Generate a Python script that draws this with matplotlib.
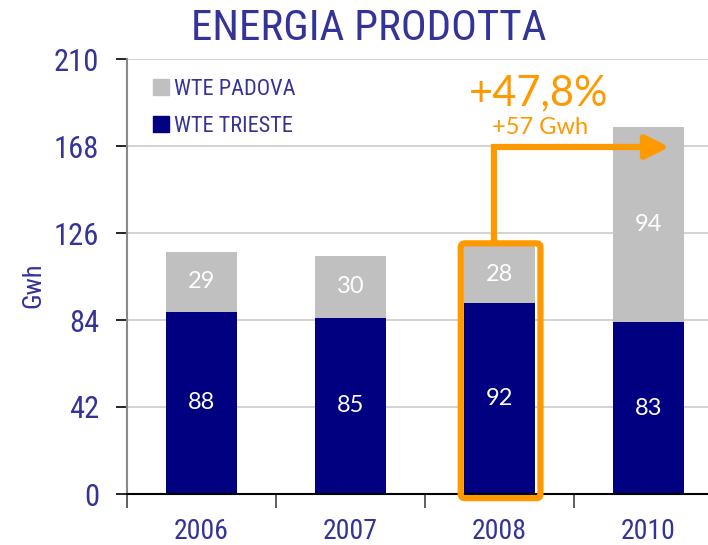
import matplotlib
matplotlib.use('Agg')
import matplotlib.pyplot as plt
from matplotlib.patches import FancyBboxPatch, Patch
from matplotlib import font_manager
import numpy as np

nomi = {f.name for f in font_manager.fontManager.ttflist}
famiglia = ['Roboto']
for n in ['Roboto Condensed', 'DejaVu Sans Condensed', 'Liberation Sans Narrow']:
    if n in nomi:
        famiglia = [n]
        break
plt.rcParams['font.family'] = famiglia + ['DejaVu Sans']
largo = ['Lato', 'DejaVu Sans']

# dati
anni = ['2006', '2007', '2008', '2010']
trieste = [88, 85, 92, 83]
padova = [29, 30, 28, 94]
yticks = [0, 42, 84, 126, 168, 210]

blu = '#000080'
grigio = '#C0C0C0'
testo = '#333399'
arancio = '#FF9900'

fig = plt.figure(figsize=(7.08, 5.45), dpi=100)
ax = fig.add_axes([127 / 708, 51 / 545, 596 / 708, 435 / 545])

x = np.arange(len(anni))
ax.bar(x, trieste, width=0.48, color=blu, zorder=2)
ax.bar(x, padova, width=0.48, bottom=trieste, color=grigio, zorder=2)

for xi, t, p in zip(x, trieste, padova):
    ax.text(xi, t / 2, str(t), color='white', fontsize=17, family=largo,
            ha='center', va='center', zorder=3)
    ax.text(xi, t + p / 2, str(p), color='white', fontsize=17, family=largo,
            ha='center', va='center', zorder=3)

ax.set_xlim(-0.5, 3.5)
ax.set_ylim(0, 210)
ax.set_yticks(yticks)
ax.set_yticklabels([str(v) for v in yticks], color=testo, fontsize=22)
ax.yaxis.grid(True, color='#cccccc', linewidth=1.2, zorder=0)
ax.tick_params(axis='y', length=8, width=1.2, color='black', pad=12)

# tick delle categorie ai bordi
ax.set_xticks(np.arange(-0.5, 3.5, 1.0))
ax.set_xticklabels([])
ax.set_xticks(x, minor=True)
ax.set_xticklabels(anni, minor=True, color=testo, fontsize=20)
ax.tick_params(axis='x', which='major', length=10, width=1.2, color='#444444', direction='out')
ax.tick_params(axis='x', which='minor', length=0, pad=17)

for s in ['top', 'right']:
    ax.spines[s].set_visible(False)
ax.spines['left'].set_color('#888888')
ax.spines['left'].set_linewidth(1.5)
ax.spines['bottom'].set_color('black')
ax.spines['bottom'].set_linewidth(1.5)

ax.set_ylabel('Gwh', color=testo, fontsize=19)
ax.yaxis.set_label_coords(-0.137, 0.48)

fig.text(369 / 708, 1 - 29 / 545, 'ENERGIA PRODOTTA', color=testo, fontsize=31,
         ha='center', va='center')

handles = [Patch(color=grigio, label='WTE PADOVA'), Patch(color=blu, label='WTE TRIESTE')]
leg = ax.legend(handles=handles, loc='upper left', bbox_to_anchor=(0.01, 1.0), frameon=False,
                handlelength=0.7, handleheight=0.7, handletextpad=0.25, labelspacing=0.7,
                fontsize=16)
for t in leg.get_texts():
    t.set_color(testo)

# evidenziazione 2008
box = FancyBboxPatch((1.74, -2), 0.535, 123, boxstyle='round,pad=0,rounding_size=0.03',
                     fill=False, edgecolor=arancio, linewidth=4.5, zorder=4,
                     mutation_aspect=60, clip_on=False)
ax.add_patch(box)
ax.plot([1.96, 1.96, 3.0], [121, 167.5, 167.5], color=arancio, linewidth=4.5,
        solid_capstyle='butt', solid_joinstyle='miter', zorder=4)
ax.annotate('', xy=(3.14, 167.5), xytext=(2.98, 167.5),
            arrowprops=dict(arrowstyle='-|>,head_length=1.4,head_width=0.7',
                            color=arancio, lw=4.5, shrinkA=0, shrinkB=0), zorder=4)
ax.text(2.26, 193.5, '+47,8%', color=arancio, fontsize=30, family=largo,
        ha='center', va='center')
ax.text(2.27, 176.8, '+57 Gwh', color=arancio, fontsize=17, family=largo,
        ha='center', va='center')

fig.savefig('out.png', dpi=100)
